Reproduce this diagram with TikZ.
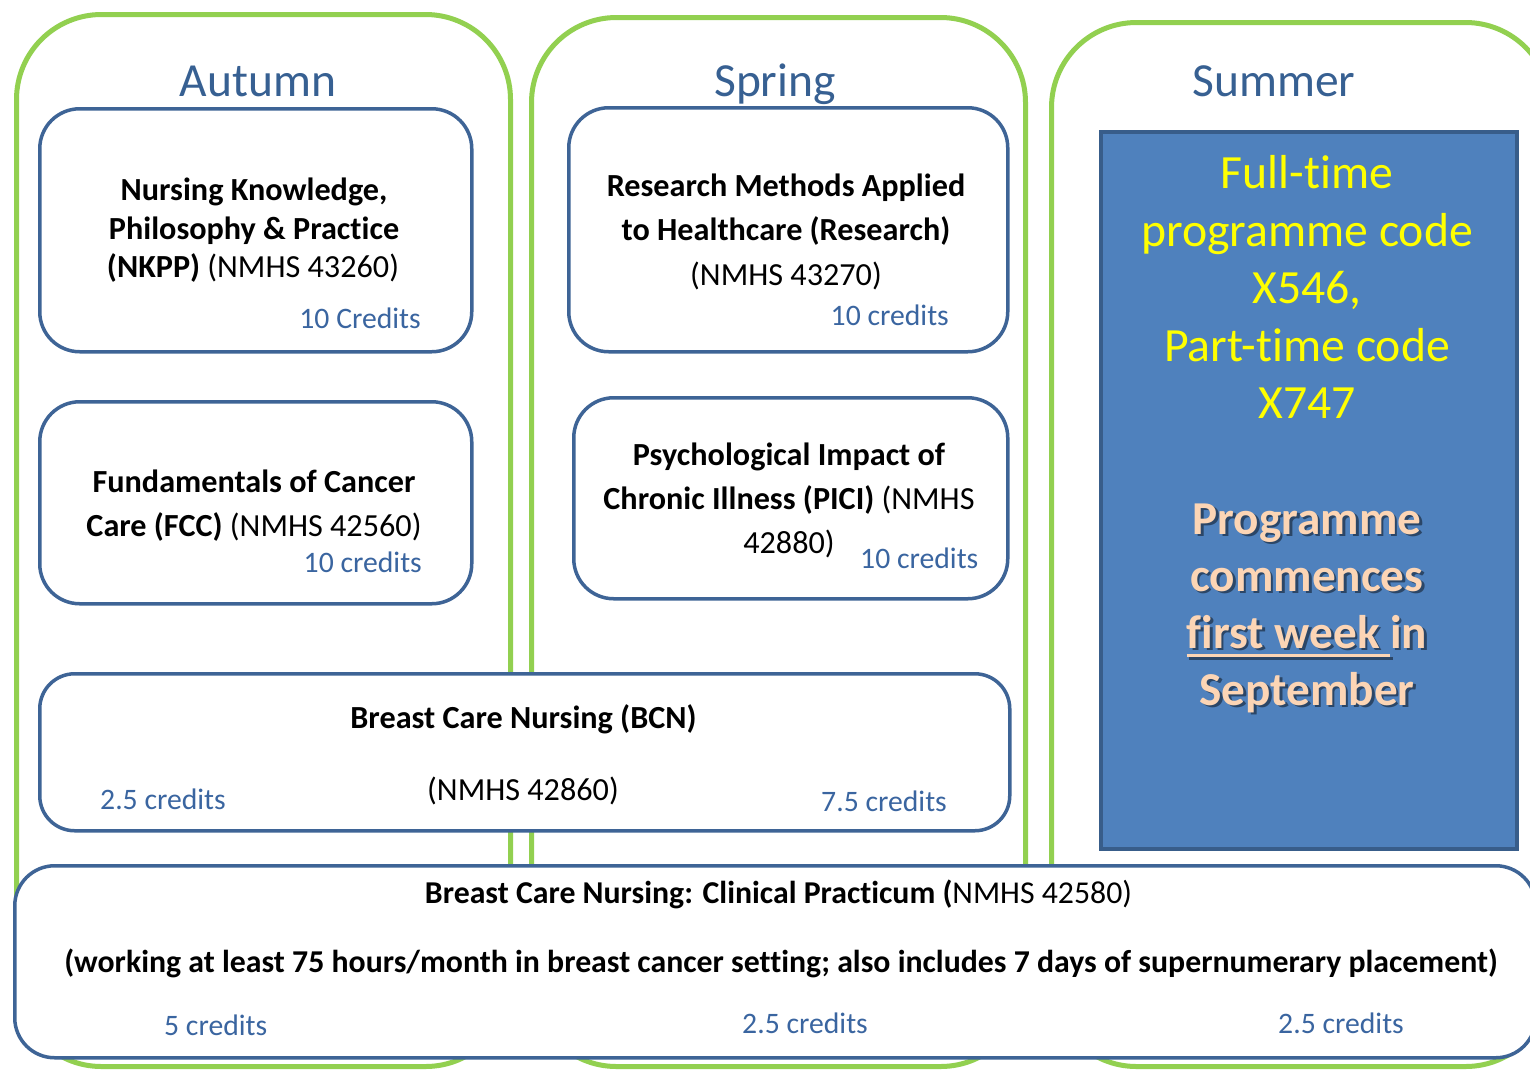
\documentclass[tikz,border=0pt]{standalone}
\usepackage{fontspec}
\setmainfont{Carlito}[Ligatures={NoCommon,NoContextual}]
\usepackage{graphicx}
\definecolor{grn}{HTML}{92D050}
\definecolor{bord}{HTML}{3E6496}
\definecolor{ttl}{HTML}{376092}
\definecolor{cred}{HTML}{3A65A0}
\definecolor{bfill}{HTML}{4F81BD}
\definecolor{bedge}{HTML}{385D8A}
\definecolor{peach}{HTML}{FCD5B5}
\definecolor{yel}{HTML}{FFFF00}
\newlength\ulw
\newcommand\thickul[1]{\settowidth{\ulw}{#1}\makebox[0pt][l]{\rule[-9pt]{\ulw}{3pt}}#1}
\tikzset{
  season/.style={draw=grn, line width=5pt, rounded corners=85pt, anchor=north west, inner sep=0pt},
  course/.style={draw=bord, line width=3.5pt, rounded corners=40pt, fill=white, anchor=north west, inner sep=0pt},
  seasonlbl/.style={text=ttl, font=\fontsize{47.5}{56}\selectfont, inner sep=0pt, anchor=base},
  ctitle/.style={font=\fontsize{32.2}{39}\selectfont, inner sep=0pt, anchor=base},
  credit/.style={text=cred, font=\fontsize{29.7}{35}\selectfont, inner sep=0pt},
  btext/.style={font=\fontsize{31.8}{36}\selectfont, inner sep=0pt, anchor=base},
  yline/.style={text=yel, font=\fontsize{47.7}{57}\selectfont, inner sep=0pt, anchor=base},
  pline/.style={text=peach, font=\bfseries\fontsize{47.2}{57}\selectfont, inner sep=0pt, anchor=base},
  pshadow/.style={text=black, opacity=0.45, font=\bfseries\fontsize{47.2}{57}\selectfont, inner sep=0pt, anchor=base}
}
\begin{document}
\begin{tikzpicture}[x=1pt,y=-1pt]
\useasboundingbox (0,0) rectangle (1530,1069);
\clip (0,0) rectangle (1530,1069);
\fill[white] (0,0) rectangle (1530,1069);
% season frames
\node[season, minimum width=494pt, minimum height=1052pt] (autumn) at (14,12) {};
\node[season, minimum width=494pt, minimum height=1049pt] (spring) at (529,15) {};
\node[season, minimum width=499pt, minimum height=1044pt] (summer) at (1049,20) {};
\node[seasonlbl] (autumnlbl) at (258,96) {Autumn};
\node[seasonlbl] (springlbl) at (775,96) {Spring};
\node[seasonlbl] (summerlbl) at (1274,96) {Summer};
% course boxes
\node[course, minimum width=432pt, minimum height=243pt] (nkpp) at (38,107) {};
\node[course, minimum width=432pt, minimum height=202pt] (fcc) at (38,400) {};
\node[course, minimum width=439pt, minimum height=244pt] (res) at (567,106) {};
\node[course, minimum width=434pt, minimum height=201pt] (pici) at (572,396) {};
\node[course, rounded corners=35pt, minimum width=970pt, minimum height=157pt] (bcn) at (38,672) {};
% summer info box
\node[draw=bedge, fill=bfill, line width=4pt, anchor=north west, inner sep=0pt,
      minimum width=416pt, minimum height=717pt] (info) at (1099,130) {};
% clinical practicum box
\node[course, minimum width=1521pt, minimum height=192pt] (clin) at (13,864) {};

% NKPP text
\node[ctitle] (nkpp1) at (254,200) {\bfseries Nursing Knowledge,};
\node[ctitle] (nkpp2) at (254,239) {\bfseries Philosophy \& Practice};
\node[ctitle] (nkpp3) at (253,277) {\textbf{(NKPP)} (NMHS 43260)};
\node[credit, anchor=base east] (nkppc) at (421,328) {10 Credits};
% FCC text
\node[ctitle] (fcc1) at (254,492) {\bfseries Fundamentals of Cancer};
\node[ctitle] (fcc2) at (254,536) {\textbf{Care (FCC)} (NMHS 42560)};
\node[credit, anchor=base east] (fccc) at (422,572) {10 credits};
% Research text
\node[ctitle] (res1) at (786,196) {\bfseries Research Methods Applied};
\node[ctitle] (res2) at (786,240) {\bfseries to Healthcare (Research)};
\node[ctitle] (res3) at (786,285) {(NMHS 43270)};
\node[credit, anchor=base east] (resc) at (949,325) {10 credits};
% PICI text
\node[ctitle] (pici1) at (789,465) {\bfseries Psychological Impact of};
\node[ctitle] (pici2) at (789,509) {\textbf{Chronic Illness (PICI)} (NMHS};
\node[ctitle] (pici3) at (789,553) {42880)};
\node[credit, anchor=base west] (picic) at (860,568) {10 credits};
% BCN text
\node[ctitle] (bcn1) at (523.5,728) {\bfseries Breast Care Nursing (BCN)};
\node[ctitle] (bcn2) at (523,800) {(NMHS 42860)};
\node[credit, anchor=base west] (bcnc1) at (100,809) {2.5 credits};
\node[credit, anchor=base west] (bcnc2) at (821,811) {7.5 credits};
% Clinical practicum text
\node[btext] (clin1) at (778.5,903) {\textbf{Breast Care Nursing: Clinical Practicum (}NMHS 42580)};
\node[btext] (clin2) at (781,972) {\bfseries (working at least 75 hours/month in breast cancer setting; also includes 7 days of supernumerary placement)};
\node[credit, anchor=base west] (clinc1) at (164,1035) {5 credits};
\node[credit, anchor=base west] (clinc2) at (742,1033) {2.5 credits};
\node[credit, anchor=base west] (clinc3) at (1278,1033) {2.5 credits};
% Summer info text
\node[yline] (y1) at (1307,188) {Full-time};
\node[yline] (y2) at (1307,246) {programme code};
\node[yline] (y3) at (1307,303) {X546,};
\node[yline] (y4) at (1307,361) {Part-time code};
\node[yline] (y5) at (1307,418) {X747};
\node[pshadow] (s1) at (1309.5,536.5) {Programme};
\node[pshadow] (s2) at (1309.5,593.5) {commences};
\node[pshadow] (s3) at (1309.5,650.5) {\thickul{first week }in};
\node[pshadow] (s4) at (1309.5,707.5) {September};
\node[pline] (p1) at (1307,534) {Programme};
\node[pline] (p2) at (1307,591) {commences};
\node[pline] (p3) at (1307,648) {\thickul{first week }in};
\node[pline] (p4) at (1307,705) {September};
\end{tikzpicture}
\end{document}
